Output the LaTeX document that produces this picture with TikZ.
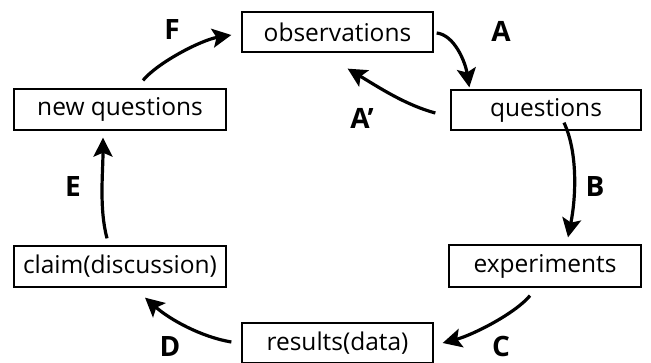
\documentclass[tikz,border=0pt]{standalone}
\usepackage{fontspec}
\setmainfont{Open Sans}
\usetikzlibrary{arrows.meta}
\tikzset{
  box/.style={draw, line width=1.3pt, minimum height=40pt, inner sep=0pt, font=\fontsize{24.5}{27}\selectfont},
  flow/.style={line width=3.2pt, -{Stealth[length=19pt,width=19pt,inset=4pt]}},
  lab/.style={inner sep=0pt, font=\fontsize{28}{30}\selectfont\bfseries}
}
\begin{document}
\begin{tikzpicture}[x=1pt,y=-1pt]
\useasboundingbox (0,0) rectangle (651,363);
\node[box, minimum width=191pt] (obs) at (337.5,32) {observations};
\node[box, minimum width=190pt] (q) at (546,110) {questions};
\node[box, minimum width=192pt, minimum height=42pt] (exp) at (545,266) {experiments};
\node[box, minimum width=191pt] (res) at (337.5,343) {results(data)};
\node[box, minimum width=212pt, minimum height=41pt] (nq) at (120,109.5) {new questions};
\node[box, minimum width=212pt, minimum height=41pt] (cl) at (120,266.5) {claim(discussion)};

\draw[flow] ([xshift=3pt,yshift=-1pt]obs.east) .. controls +(18,2) and +(-4,-25) .. ([xshift=19pt,yshift=2pt]q.north west);
\draw[flow] ([xshift=-15pt,yshift=-3pt]q.west) .. controls +(-30,-8) and +(30,18) .. ([xshift=-86pt,yshift=-16pt]obs.south east);
\draw[flow] ([xshift=18pt,yshift=8pt]q.south) .. controls +(14,30) and +(8,-40) .. ([xshift=23pt,yshift=7pt]exp.north);
\draw[flow] ([xshift=-15pt,yshift=-8pt]exp.south) .. controls +(-15,18) and +(30,-8) .. ([xshift=9pt]res.east);
\draw[flow] ([xshift=-10pt,yshift=1pt]res.west) .. controls +(-30,-5) and +(25,22) .. ([xshift=25pt,yshift=-10pt]cl.south);
\draw[flow] ([xshift=-13pt,yshift=7pt]cl.north) .. controls +(-8,-30) and +(0,35) .. ([xshift=-17pt,yshift=-7pt]nq.south);
\draw[flow] ([xshift=23pt,yshift=8pt]nq.north) .. controls +(15,-18) and +(-30,5) .. ([xshift=-10pt,yshift=-3pt]obs.west);

\node[lab] (la) at (501,31) {A};
\node[lab] (lap) at (362,118) {A’};
\node[lab] (lb) at (595,187) {B};
\node[lab] (lc) at (501,346) {C};
\node[lab] (ld) at (170,347) {D};
\node[lab] (le) at (73,187) {E};
\node[lab] (lf) at (172,30) {F};
\end{tikzpicture}
\end{document}
